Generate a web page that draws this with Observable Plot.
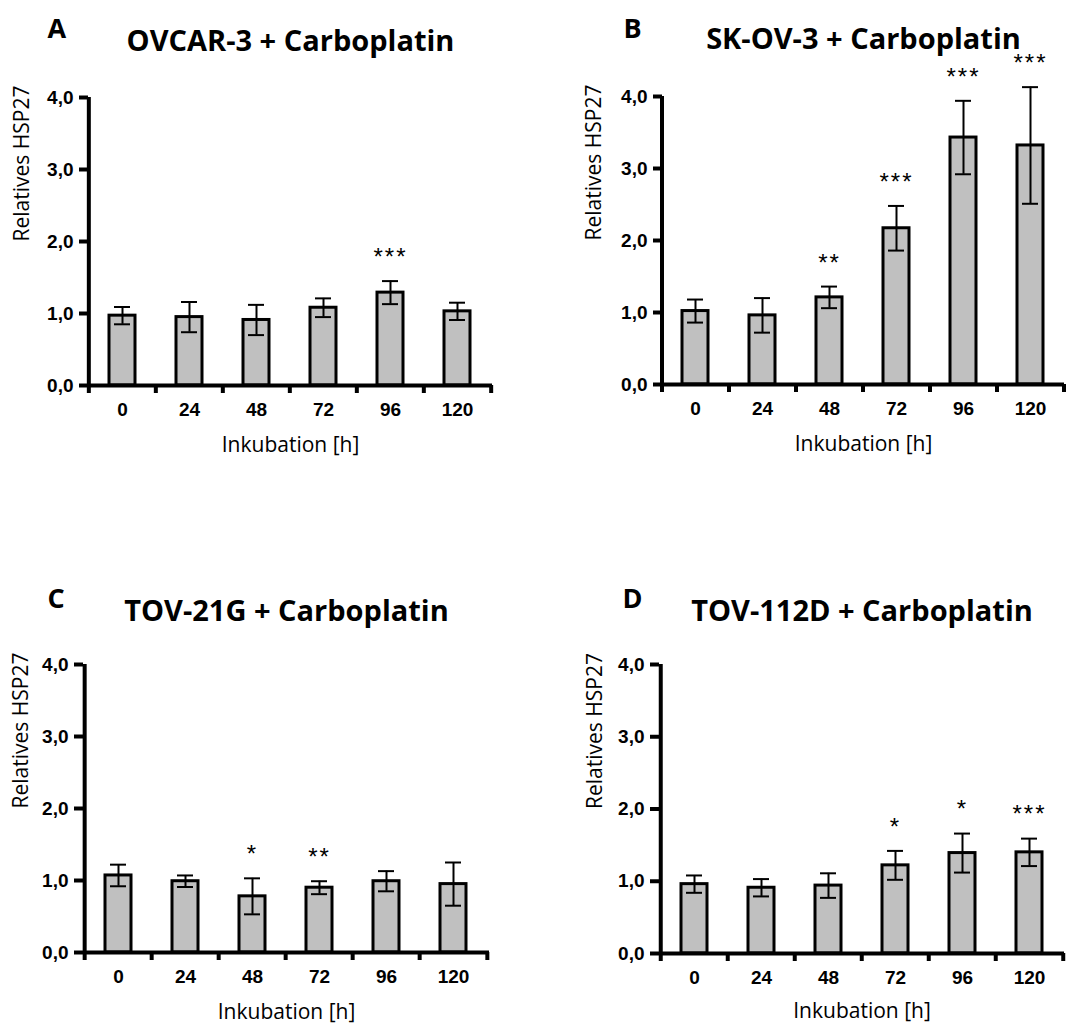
<!DOCTYPE html>
<html><head><meta charset="utf-8">
<script src="https://cdn.jsdelivr.net/npm/d3@7"></script>
<script src="https://cdn.jsdelivr.net/npm/@observablehq/plot@0.6"></script>
<style>
body{margin:0;background:#fff;}
#wrap{position:relative;width:1072px;height:1025px;background:#fff;}
.panel{position:absolute;}
</style></head><body><div id="wrap"></div>
<script>
// ---- data ----
const hours = ["0", "24", "48", "72", "96", "120"];
const yTicks = [0, 1, 2, 3, 4];

const titleA = "OVCAR-3 + Carboplatin";
const meanA = [0.97, 0.95, 0.91, 1.08, 1.29, 1.03];
const errA  = [0.12, 0.21, 0.21, 0.13, 0.16, 0.12];
const sigA  = ["", "", "", "", "***", ""];

const titleB = "SK-OV-3 + Carboplatin";
const meanB = [1.02, 0.96, 1.21, 2.17, 3.43, 3.32];
const errB  = [0.16, 0.24, 0.15, 0.31, 0.51, 0.81];
const sigB  = ["", "", "**", "***", "***", "***"];

const titleC = "TOV-21G + Carboplatin";
const meanC = [1.07, 0.99, 0.78, 0.90, 0.99, 0.95];
const errC  = [0.15, 0.08, 0.25, 0.09, 0.14, 0.30];
const sigC  = ["", "", "*", "**", "", ""];

const titleD = "TOV-112D + Carboplatin";
const meanD = [0.96, 0.91, 0.94, 1.22, 1.39, 1.40];
const errD  = [0.12, 0.12, 0.17, 0.20, 0.27, 0.19];
const sigD  = ["", "", "", "*", "*", "***"];

const yLabel = "Relatives HSP27";
const xLabel = "Inkubation [h]";

// ---- layout ----
const panels = [
  {letter: "A", title: titleA, mean: meanA, err: errA, sig: sigA, left: 0,   top: 0,   w: 536, h: 512,
   mt: 97,  mr: 44, mb: 127, ml: 88,  letterDx: -41, letterDy: -60, titleDy: -47, yTitleDx: -66, xTitleDy: 66},
  {letter: "B", title: titleB, mean: meanB, err: errB, sig: sigB, left: 536, top: 0,   w: 536, h: 512,
   mt: 96,  mr: 8,  mb: 128, ml: 126, letterDx: -39, letterDy: -59, titleDy: -48, yTitleDx: -68, xTitleDy: 66},
  {letter: "C", title: titleC, mean: meanC, err: errC, sig: sigC, left: 0,   top: 512, w: 536, h: 513,
   mt: 152, mr: 47, mb: 73,  ml: 83,  letterDx: -36, letterDy: -57, titleDy: -44, yTitleDx: -62, xTitleDy: 66},
  {letter: "D", title: titleD, mean: meanD, err: errD, sig: sigD, left: 536, top: 512, w: 536, h: 513,
   mt: 152, mr: 8,  mb: 72,  ml: 123, letterDx: -37, letterDy: -57, titleDy: -44, yTitleDx: -64, xTitleDy: 64}
];

const wrap = document.getElementById("wrap");
const sans = "'Open Sans', 'Noto Sans', sans-serif";
const arial = "'Liberation Sans', Arial, sans-serif";
const fmtY = d => d.toFixed(1).replace(".", ",");
const tickLabels = new Set([...hours, ...yTicks.map(fmtY)]);

for (const p of panels) {
  const data = hours.map((h, i) => ({h, v: p.mean[i], e: p.err[i], s: p.sig[i]}));
  const step = (p.w - p.ml - p.mr) / hours.length;
  const chart = Plot.plot({
    width: p.w, height: p.h,
    marginTop: p.mt, marginRight: p.mr, marginBottom: p.mb, marginLeft: p.ml,
    x: {type: "band", domain: hours, paddingInner: 0.61, paddingOuter: 0.305},
    y: {domain: [0, 4]},
    style: {fontFamily: arial, background: "white", overflow: "visible", color: "black"},
    marks: [
      Plot.barY(data, {x: "h", y: "v", fill: "#c0c0c0", stroke: "#000", strokeWidth: 3}),
      Plot.ruleX(data, {x: "h", y1: d => d.v - d.e, y2: d => d.v + d.e, stroke: "#000", strokeWidth: 2}),
      Plot.tickY(data, {x: "h", y: d => d.v + d.e, stroke: "#000", strokeWidth: 2, insetLeft: 5, insetRight: 5}),
      Plot.tickY(data, {x: "h", y: d => d.v - d.e, stroke: "#000", strokeWidth: 2, insetLeft: 5, insetRight: 5}),
      Plot.ruleY([0], {stroke: "#000", strokeWidth: 4}),
      Plot.ruleX([hours[0]], {dx: -step / 2, y1: 0, y2: 4, stroke: "#000", strokeWidth: 4}),
      Plot.axisY({ticks: yTicks, tickSize: 9, tickPadding: 6, tickFormat: fmtY,
        strokeWidth: 4, stroke: "#000", fontSize: 19, fontWeight: "bold", fill: "#000", label: null}),
      Plot.axisX({ticks: hours, tickSize: 8, strokeWidth: 4, stroke: "#000", dx: -step / 2, tickFormat: () => "", label: null}),
      Plot.axisX({ticks: [hours[hours.length - 1]], tickSize: 8, strokeWidth: 4, stroke: "#000", dx: step / 2, tickFormat: () => "", label: null}),
      Plot.axisX({ticks: hours, tickSize: 0, tickPadding: 17, fontSize: 19, fontWeight: "bold", fill: "#000", label: null}),
      Plot.text(data.filter(d => d.s), {x: "h", y: d => d.v + d.e + 0.33, text: "s", fontSize: 24, fontWeight: "normal", fill: "#000"}),
      Plot.text([p.title], {text: d => d, frameAnchor: "top", dy: p.titleDy, lineAnchor: "bottom",
        fontSize: 29, fontWeight: "bold", fontFamily: sans, fill: "#000"}),
      Plot.text([p.letter], {text: d => d, frameAnchor: "top-left", dx: p.letterDx, dy: p.letterDy,
        textAnchor: "start", lineAnchor: "bottom", fontSize: 27, fontWeight: "bold", fontFamily: sans, fill: "#000"}),
      Plot.text([yLabel], {text: d => d, frameAnchor: "left", dx: p.yTitleDx, rotate: -90,
        fontSize: 21, fontWeight: "normal", fontFamily: sans, fill: "#000"}),
      Plot.text([xLabel], {text: d => d, frameAnchor: "bottom", dy: p.xTitleDy,
        fontSize: 21, fontWeight: "normal", fontFamily: sans, fill: "#000"})
    ]
  });
  chart.querySelectorAll("text").forEach(t => {
    const s = t.textContent;
    if (/^\*+$/.test(s)) t.style.letterSpacing = "2px";
    if (tickLabels.has(s)) {
      t.setAttribute("font-size", "19");
      t.style.fontSize = "19px";
      t.style.fontWeight = "bold";
      t.style.fontFamily = arial;
    }
  });
  const div = document.createElement("div");
  div.className = "panel";
  div.style.left = p.left + "px";
  div.style.top = p.top + "px";
  div.appendChild(chart);
  wrap.appendChild(div);
}
</script></body></html>
